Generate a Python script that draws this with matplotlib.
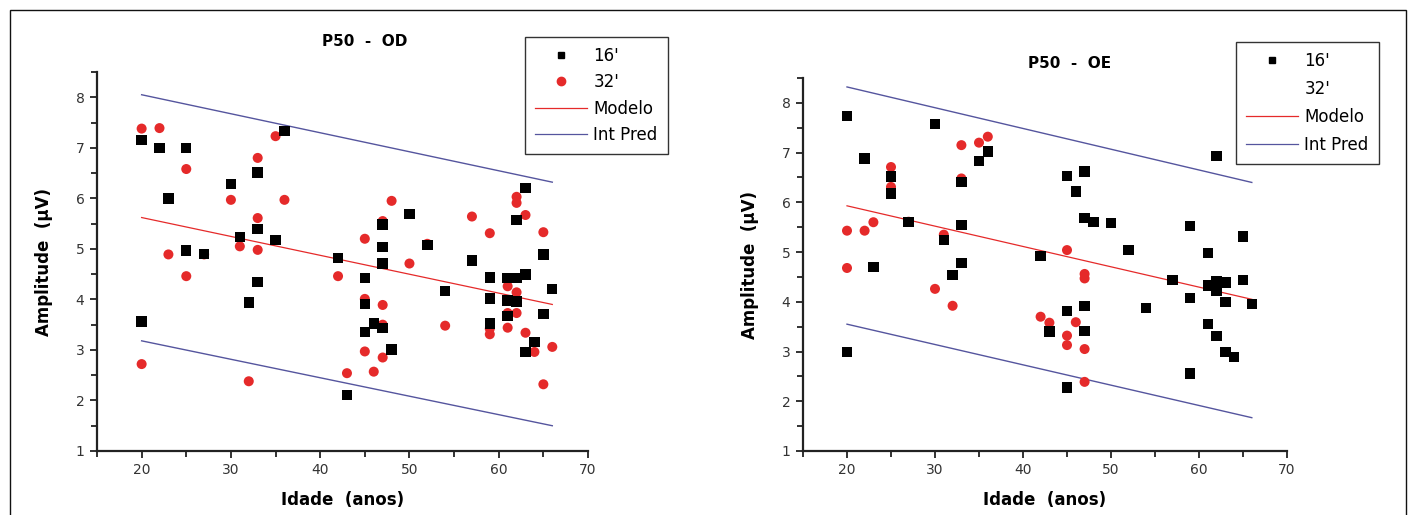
import matplotlib
matplotlib.use("Agg")
import matplotlib.pyplot as plt
from matplotlib.lines import Line2D
from matplotlib.patches import Rectangle
from matplotlib.ticker import MultipleLocator

# P50 - OD (olho direito)
od_16_idade = [20, 22, 25, 23, 25, 27, 20, 30, 31, 33, 33, 33, 32, 35, 36, 42, 43,
               50, 47, 47, 52, 47, 45, 45, 46, 47, 45, 48, 54, 57, 59, 59, 59,
               63, 62, 65, 61, 62, 63, 66, 61, 62, 61, 65, 64, 63]
od_16_amp = [7.15, 7.0, 7.0, 6.0, 4.97, 4.9, 3.56, 6.28, 5.24, 6.51, 5.39, 4.35, 3.94, 5.17, 7.33, 4.82, 2.11,
             5.69, 5.48, 5.04, 5.08, 4.71, 4.42, 3.91, 3.52, 3.44, 3.36, 3.01, 4.17, 4.77, 4.43, 4.02, 3.52,
             6.21, 5.57, 4.89, 4.42, 4.42, 4.49, 4.21, 3.98, 3.96, 3.67, 3.71, 3.16, 2.96]

od_32_idade = [20, 22, 25, 23, 25, 27, 20, 30, 31, 33, 33, 33, 35, 36, 32, 42, 43,
               48, 47, 45, 52, 50, 45, 47, 47, 54, 45, 47, 46, 57, 59, 62, 62, 63, 65,
               61, 62, 61, 62, 61, 59, 59, 63, 63, 64, 66, 65]
od_32_amp = [7.38, 7.39, 6.58, 4.89, 4.46, 4.89, 2.72, 5.97, 5.05, 6.80, 5.61, 4.98, 7.23, 5.97, 2.38, 4.46, 2.54,
             5.95, 5.55, 5.20, 5.10, 4.71, 4.01, 3.89, 3.50, 3.48, 2.97, 2.85, 2.57, 5.64, 5.31, 6.03, 5.91, 5.67, 5.33,
             4.26, 4.14, 3.73, 3.73, 3.44, 3.42, 3.31, 3.34, 2.96, 2.96, 3.06, 2.32]

od_modelo = [5.62, 3.90]
od_pred_sup = [8.05, 6.32]
od_pred_inf = [3.18, 1.50]

# P50 - OE (olho esquerdo)
oe_16_idade = [20, 22, 25, 25, 23, 20, 27, 30, 31, 32, 33, 33, 33, 35, 36, 42, 43,
               62, 45, 47, 46, 47, 48, 50, 52, 59, 65, 61, 57, 54, 59, 61, 62, 63, 62,
               63, 65, 66, 61, 62, 63, 64, 59, 45, 47, 47, 45]
oe_16_amp = [7.74, 6.88, 6.52, 6.18, 4.70, 2.99, 5.61, 7.58, 5.24, 4.54, 6.41, 5.55, 4.78, 6.83, 7.02, 4.92, 3.40,
             6.93, 6.53, 6.62, 6.22, 5.69, 5.61, 5.58, 5.04, 5.53, 5.31, 4.98, 4.44, 3.88, 4.08, 4.33, 4.42, 4.39, 4.23,
             4.00, 4.44, 3.95, 3.55, 3.31, 2.99, 2.89, 2.56, 3.82, 3.92, 3.41, 2.28]

oe_32_idade = [20, 20, 22, 23, 25, 25, 27, 30, 31, 32, 33, 33, 33, 35, 36, 42, 43,
               45, 47, 47, 46, 45, 45, 47, 47]
oe_32_amp = [5.43, 4.68, 5.43, 5.60, 6.71, 6.31, 5.61, 4.26, 5.35, 3.92, 7.15, 6.48, 4.78, 7.20, 7.32, 3.70, 3.58,
             5.04, 4.56, 4.47, 3.59, 3.32, 3.13, 3.05, 2.39]

oe_modelo = [5.93, 4.05]
oe_pred_sup = [8.32, 6.40]
oe_pred_inf = [3.55, 1.67]

idade_lim = [20, 66]

narrow = "Liberation Sans Narrow"
vermelho = "#e52a2a"
azul = "#55559e"

fig = plt.figure(figsize=(14.12, 5.15), dpi=100)
W, H = 1412, 515

# moldura externa
fig.add_artist(Rectangle((10 / W, -0.05), 1396 / W, 1.05 - 10 / H, transform=fig.transFigure,
                         fill=False, edgecolor="#111111", linewidth=1.0))


def painel(rect, titulo, titulo_xy, x16, y16, x32, y32, modelo, sup, inf, leg_xy, leg_32_marker, espaco):
    ax = fig.add_axes(rect)
    ax.plot(idade_lim, sup, color=azul, lw=1.0)
    ax.plot(idade_lim, inf, color=azul, lw=1.0)
    ax.plot(idade_lim, modelo, color=vermelho, lw=0.9)
    ax.scatter(x32, y32, s=52, marker="o", color=vermelho, edgecolors="none", zorder=3)
    ax.scatter(x16, y16, s=56, marker="s", color="black", edgecolors="none", zorder=4)

    ax.set_xlim(15, 70)
    ax.set_ylim(1, 8.5)
    ax.xaxis.set_minor_locator(MultipleLocator(5))
    ax.yaxis.set_major_locator(MultipleLocator(1))
    ax.yaxis.set_minor_locator(MultipleLocator(0.5))
    ax.set_xticks(range(20, 71, 10))
    for s in ["top", "right"]:
        ax.spines[s].set_visible(False)
    for s in ["left", "bottom"]:
        ax.spines[s].set_linewidth(1.6)
        ax.spines[s].set_color("#222222")
    ax.tick_params(which="both", direction="out", width=1.3, color="#222222")
    ax.tick_params(which="major", length=5, labelsize=10, pad=4)
    ax.tick_params(which="minor", length=4)
    for lab in ax.get_xticklabels() + ax.get_yticklabels():
        lab.set_fontfamily(narrow)
        lab.set_color("#333333")

    ax.set_xlabel("Idade  (anos)", fontfamily=narrow, fontweight="bold", fontsize=12, labelpad=10)
    ax.set_ylabel("Amplitude  (\u00b5V)", fontfamily=narrow, fontweight="bold", fontsize=12, labelpad=16)
    fig.text(titulo_xy[0] / W, 1 - titulo_xy[1] / H, titulo, ha="center", va="center",
             fontfamily=narrow, fontweight="bold", fontsize=11)

    handles = [
        Line2D([], [], ls="none", marker="s", color="black", markersize=5),
        Line2D([], [], ls="none", marker="o", color=vermelho, markersize=6) if leg_32_marker
        else Line2D([], [], ls="none", marker="none"),
        Line2D([], [], color=vermelho, lw=0.9),
        Line2D([], [], color=azul, lw=0.9),
    ]
    leg = ax.legend(handles, ["16'", "32'", "Modelo", "Int Pred"], loc="upper left",
                    bbox_to_anchor=(leg_xy[0] / W, 1 - leg_xy[1] / H), bbox_transform=fig.transFigure,
                    fontsize=12, frameon=True, fancybox=False, framealpha=1, edgecolor="#333333",
                    handlelength=3.1, handletextpad=0.4, borderpad=0.6, labelspacing=espaco,
                    borderaxespad=0)
    leg.get_frame().set_linewidth(1.0)
    return ax


painel([97 / W, 1 - 451 / H, 491 / W, 379 / H], "P50  -  OD", (365, 42),
       od_16_idade, od_16_amp, od_32_idade, od_32_amp,
       od_modelo, od_pred_sup, od_pred_inf, (525, 37), True, 0.5)

painel([803 / W, 1 - 451 / H, 484 / W, 373 / H], "P50  -  OE", (1070, 64),
       oe_16_idade, oe_16_amp, oe_32_idade, oe_32_amp,
       oe_modelo, oe_pred_sup, oe_pred_inf, (1236, 42), False, 0.6)

fig.savefig("out.png", dpi=100)
